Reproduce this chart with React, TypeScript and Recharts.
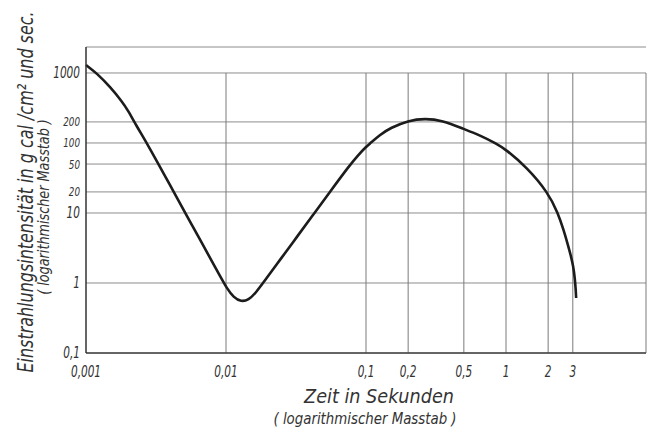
import * as React from "react";
import {
  LineChart,
  Line,
  XAxis,
  YAxis,
  CartesianGrid,
  ReferenceLine,
} from "recharts";

// Zeit in Sekunden (log) / Einstrahlungsintensität in g cal/cm² sec (log)
const timeSec = [
  0.001, 0.0012, 0.0015, 0.0018, 0.002, 0.0023, 0.00277, 0.004, 0.00521,
  0.0091, 0.0101, 0.01135, 0.0128, 0.01449, 0.01637, 0.0184, 0.025, 0.032,
  0.0418, 0.0545, 0.077, 0.087, 0.1, 0.107, 0.125, 0.15, 0.2, 0.264, 0.35, 0.5,
  0.65, 0.86, 1, 1.41, 2, 2.35, 2.58, 2.77, 2.91, 3.02, 3.1, 3.15, 3.17,
];
const intensity = [
  1300, 984, 621, 395, 291, 173, 94, 24.6, 9.4, 1.24, 0.85, 0.62, 0.54, 0.57,
  0.73, 1, 2.31, 4.51, 9.36, 19.3, 49, 65.6, 88, 98.6, 130, 165, 209, 224, 210,
  158, 129, 97, 80.5, 44.7, 19.5, 10, 5.71, 3.49, 2.43, 1.75, 1.18, 0.79, 0.61,
];

const xTicks = [0.001, 0.01, 0.1, 0.2, 0.5, 1, 2, 3];
const yTicks = [0.1, 1, 10, 20, 50, 100, 200, 1000];
const smallYTicks = [20, 50, 100, 200];

const data = timeSec.map((t, i) => ({ t, v: intensity[i] }));

const FONT = "'DejaVu Sans Condensed', 'DejaVu Sans', sans-serif";
const INK = "#333";

const fmt = (v: number) => String(v).replace(".", ",");

function XTick({ x, payload }: any) {
  return (
    <g transform={`translate(${x},377)`}>
      <text
        transform="scale(0.78,1)"
        textAnchor="middle"
        fontFamily={FONT}
        fontStyle="italic"
        fontSize={15}
        fill={INK}
      >
        {fmt(payload.value)}
      </text>
    </g>
  );
}

function YTick({ y, payload }: any) {
  const small = smallYTicks.includes(payload.value);
  return (
    <g transform={`translate(80,${y})`}>
      <text
        transform="scale(0.78,1)"
        textAnchor="end"
        dy="0.36em"
        fontFamily={FONT}
        fontStyle="italic"
        fontSize={small ? 12.5 : 15}
        fill={INK}
      >
        {fmt(payload.value)}
      </text>
    </g>
  );
}

function YTitle() {
  return (
    <g fontFamily={FONT} fontStyle="italic" fill={INK}>
      <text
        transform="translate(33,192) rotate(-90) scale(0.845,1)"
        textAnchor="middle"
        fontSize={21}
      >
        Einstrahlungsintensität in g cal /cm² und sec.
      </text>
      <text
        transform="translate(49,207) rotate(-90) scale(0.95,1)"
        textAnchor="middle"
        fontSize={15}
      >
        ( logarithmischer  Masstab )
      </text>
    </g>
  );
}

function XTitle() {
  return (
    <g fontFamily={FONT} fontStyle="italic" fill={INK}>
      <text
        transform="translate(379,403) scale(0.98,1)"
        textAnchor="middle"
        fontSize={20}
      >
        Zeit in Sekunden
      </text>
      <text
        transform="translate(365,424) scale(0.99,1)"
        textAnchor="middle"
        fontSize={15}
      >
        ( logarithmischer  Masstab )
      </text>
    </g>
  );
}

export default function App() {
  return (
    <div
      style={{
        position: "absolute",
        left: 0,
        top: 0,
        width: 647,
        height: 430,
        background: "#fff",
      }}
    >
      <LineChart
        width={647}
        height={430}
        data={data}
        margin={{ top: 47, right: 1, bottom: 0, left: 0 }}
      >
        <CartesianGrid vertical={false} stroke="#8c8c8c" strokeWidth={1} />
        <XAxis
          dataKey="t"
          type="number"
          scale="log"
          domain={[0.001, 10]}
          ticks={xTicks}
          interval={0}
          tick={<XTick />}
          tickLine={false}
          axisLine={{ stroke: "#444", strokeWidth: 1.5 }}
          height={77}
          label={<XTitle />}
        />
        <YAxis
          type="number"
          scale="log"
          domain={[0.1, 2350]}
          ticks={yTicks}
          interval={0}
          tick={<YTick />}
          tickLine={false}
          axisLine={{ stroke: "#333", strokeWidth: 1.5 }}
          width={86}
          label={<YTitle />}
        />
        {[...xTicks.slice(1), 10].map((t) => (
          <ReferenceLine
            key={t}
            segment={[
              { x: t, y: 0.1 },
              { x: t, y: 1000 },
            ]}
            stroke="#7a7a7a"
            strokeWidth={1}
          />
        ))}
        <Line
          type="basis"
          dataKey="v"
          stroke="#1c1c1c"
          strokeWidth={2.6}
          dot={false}
          isAnimationActive={false}
        />
      </LineChart>
    </div>
  );
}
